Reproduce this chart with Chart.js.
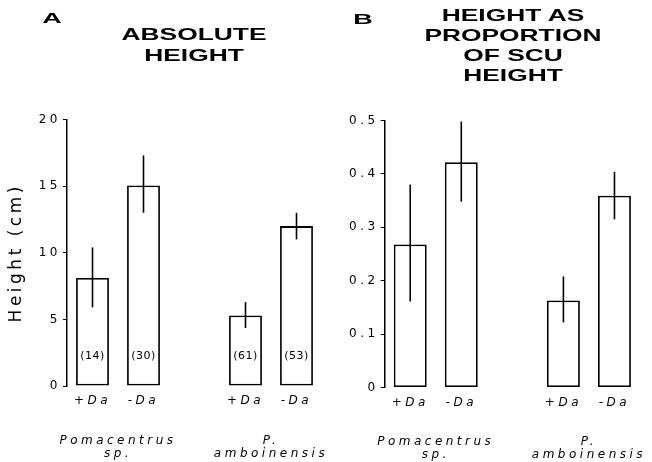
<!DOCTYPE html>
<html>
<head>
<meta charset="utf-8">
<script src="https://cdn.jsdelivr.net/npm/chart.js@4"></script>
<style>
    body { margin: 0; background: #fff; }
    #page { position: relative; width: 652px; height: 462px; overflow: hidden; }
    .panel { position: absolute; top: 0; width: 326px; height: 462px; }
    .head {
        position: absolute;
        font-family: 'Liberation Sans', Arial, sans-serif;
        font-weight: 700;
        color: #000;
        text-align: center;
        white-space: nowrap;
        transform: translateX(-50%) scaleX(1.55);
    }
    .letter { font-size: 15px; line-height: 15px; transform: translateX(-50%) scaleX(1.8); }
</style>
</head>
<body>
<div id="page">
    <div class="panel" style="left:0"><canvas id="chartA"></canvas></div>
    <div class="panel" style="left:326px"><canvas id="chartB"></canvas></div>
    <div class="head letter" style="left:52px; top:10px">A</div>
    <div class="head" style="left:194px; top:24px; font-size:17px; line-height:21px">ABSOLUTE<br>HEIGHT</div>
    <div class="head letter" style="left:363px; top:11px">B</div>
    <div class="head" style="left:513px; top:6px; font-size:17px; line-height:20px">HEIGHT AS<br>PROPORTION<br>OF SCU<br>HEIGHT</div>
</div>
<script>
// categories (empty slot separates the two species)
const treatments = ['+Da', '-Da', '', '+Da', '-Da'];
const species = [['Pomacentrus', 'sp.'], ['P.', 'amboinensis']];
const speciesAt = [0.5, 3.5];   // centre of each pair, in treatment slots

// panel A: absolute height (cm)
const heightMean = [8.1, 15.05, null, 5.3, 12.0];
const heightLow = [5.9, 13.0, null, 4.35, 11.0];
const heightHigh = [10.4, 17.3, null, 6.3, 13.0];
const sampleSizes = ['(14)', '(30)', '', '(61)', '(53)'];

// panel B: height as proportion of SCU height
const propMean = [0.268, 0.422, null, 0.163, 0.359];
const propLow = [0.161, 0.348, null, 0.122, 0.315];
const propHigh = [0.38, 0.498, null, 0.208, 0.404];

const FONT = "'DejaVu Sans', sans-serif";
const SPACING = '3.5px';

// species names sit on half-slot positions of a second category axis
const speciesLabels = Array(treatments.length * 2 + 1).fill('');
speciesAt.forEach((v, i) => { speciesLabels[v * 2 + 1] = species[i]; });

const spacing = {
    id: 'spacing',
    beforeLayout(chart) { chart.ctx.letterSpacing = SPACING; },
    beforeDraw(chart) { chart.ctx.letterSpacing = SPACING; }
};

const errorBars = {
    id: 'errorBars',
    afterDatasetsDraw(chart, args, opts) {
        const ctx = chart.ctx;
        const y = chart.scales.y;
        const bars = chart.getDatasetMeta(0).data;
        ctx.save();
        ctx.strokeStyle = '#000';
        ctx.lineWidth = 1.6;
        bars.forEach((bar, i) => {
            if (opts.low[i] == null) return;
            ctx.beginPath();
            ctx.moveTo(bar.x, y.getPixelForValue(opts.low[i]));
            ctx.lineTo(bar.x, y.getPixelForValue(opts.high[i]));
            ctx.stroke();
        });
        if (opts.labels) {
            ctx.letterSpacing = '0.5px';
            ctx.font = '11px ' + FONT;
            ctx.fillStyle = '#000';
            ctx.textAlign = 'center';
            ctx.textBaseline = 'middle';
            bars.forEach((bar, i) => {
                if (opts.labels[i]) ctx.fillText(opts.labels[i], bar.x, bar.base - 29);
            });
        }
        ctx.restore();
    }
};

function makePanel(id, values, low, high, labels, yMax, step, cfg) {
    const yScale = {
        min: 0,
        max: yMax,
        ticks: { stepSize: step, color: '#000', padding: 2, font: { family: FONT, size: 12 } },
        grid: { display: true, drawOnChartArea: false, drawTicks: true, tickLength: 4, color: '#000', lineWidth: 1 },
        border: { display: true, color: '#000', width: 1.5 },
        afterFit: s => { s.width = cfg.yWidth; }
    };
    if (cfg.yTitle) {
        yScale.title = { display: true, text: cfg.yTitle, color: '#000', font: { family: FONT, size: 17 }, padding: { top: 6, bottom: 0 } };
    }
    return new Chart(document.getElementById(id), {
        type: 'bar',
        data: {
            labels: treatments,
            datasets: [{
                data: values,
                backgroundColor: '#fff',
                borderColor: '#000',
                borderWidth: 1.8,
                borderSkipped: false,
                barPercentage: 0.645,
                categoryPercentage: 1.0
            }]
        },
        options: {
            responsive: true,
            maintainAspectRatio: false,
            animation: false,
            layout: { padding: { left: 0, right: cfg.right, top: cfg.top, bottom: 0 } },
            plugins: {
                legend: { display: false },
                tooltip: { enabled: false },
                errorBars: { low: low, high: high, labels: labels }
            },
            scales: {
                x: {
                    weight: 1,
                    ticks: { color: '#000', padding: 0, maxRotation: 0, autoSkip: false, font: { family: FONT, size: 12, style: 'italic' } },
                    grid: { display: false },
                    border: { display: false },
                    afterFit: s => { s.height = 40; }
                },
                species: {
                    type: 'category',
                    position: 'bottom',
                    weight: 2,
                    labels: speciesLabels,
                    offset: false,
                    ticks: {
                        color: '#000',
                        padding: 0,
                        maxRotation: 0,
                        autoSkip: false,
                        font: { family: FONT, size: 12, style: 'italic', lineHeight: 1.1 }
                    },
                    grid: { display: false },
                    border: { display: false },
                    afterFit: s => { s.height = cfg.bottom - 40; }
                },
                y: yScale
            }
        },
        plugins: [spacing, errorBars]
    });
}

makePanel('chartA', heightMean, heightLow, heightHigh, sampleSizes, 20, 5,
    { yWidth: 67, right: 4, top: 119.5, bottom: 76, yTitle: 'Height (cm)' });
makePanel('chartB', propMean, propLow, propHigh, null, 0.5, 0.1,
    { yWidth: 58.7, right: 12, top: 120.5, bottom: 74.5 });
</script>
</body>
</html>
